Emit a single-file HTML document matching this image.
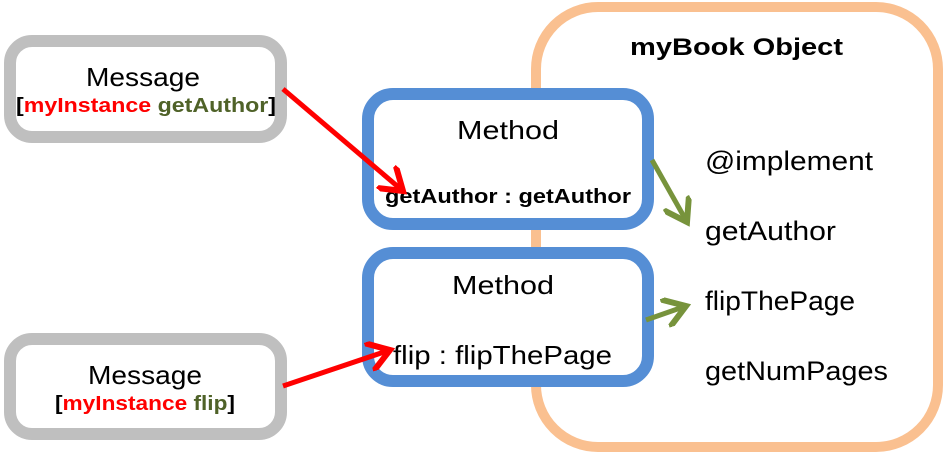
<!DOCTYPE html>
<html><head><meta charset="utf-8"><style>
html,body{margin:0;padding:0;background:#fff;}
svg{display:block;font-family:"Liberation Sans","Noto Sans CJK KR",sans-serif;}
</style></head><body>
<svg width="944" height="454" viewBox="0 0 944 454" xmlns="http://www.w3.org/2000/svg">
<defs>
<marker id="ar" markerWidth="6" markerHeight="6" refX="4.5" refY="3" orient="auto" markerUnits="strokeWidth"><path d="M0,0 L4.5,3 L0,6" fill="none" stroke="#ff0000" stroke-width="1.2"/></marker>
<marker id="ag" markerWidth="6" markerHeight="6" refX="4.5" refY="3" orient="auto" markerUnits="strokeWidth"><path d="M0,0 L4.5,3 L0,6" fill="none" stroke="#77933c" stroke-width="1.2"/></marker>
</defs>
<rect x="536" y="7" width="402" height="440" rx="62" fill="#fff" stroke="#fac090" stroke-width="10"/>
<rect x="10" y="41" width="271" height="96" rx="22" fill="#fff" stroke="#bfbfbf" stroke-width="12"/>
<rect x="10" y="339" width="271" height="95" rx="22" fill="#fff" stroke="#bfbfbf" stroke-width="12"/>
<rect x="368" y="94" width="280" height="130" rx="25" fill="#fff" stroke="#558ed5" stroke-width="12"/>
<rect x="368" y="253" width="280" height="128" rx="25" fill="#fff" stroke="#558ed5" stroke-width="12"/>

<text x="86" y="86" font-size="26" textLength="114" lengthAdjust="spacingAndGlyphs">Message</text>
<text x="16" y="112" font-size="20" font-weight="bold" textLength="260" lengthAdjust="spacingAndGlyphs"><tspan>[</tspan><tspan fill="#ff0000">myInstance </tspan><tspan fill="#4f6228">getAuthor</tspan><tspan>]</tspan></text>
<text x="88" y="384" font-size="26" textLength="114" lengthAdjust="spacingAndGlyphs">Message</text>
<text x="55" y="410" font-size="20" font-weight="bold" textLength="180" lengthAdjust="spacingAndGlyphs"><tspan>[</tspan><tspan fill="#ff0000">myInstance </tspan><tspan fill="#4f6228">flip</tspan><tspan>]</tspan></text>

<text x="457" y="139" font-size="26" textLength="102" lengthAdjust="spacingAndGlyphs">Method</text>
<text x="385" y="203" font-size="20" font-weight="bold" textLength="246" lengthAdjust="spacingAndGlyphs">getAuthor : getAuthor</text>
<text x="452" y="294" font-size="26" textLength="102" lengthAdjust="spacingAndGlyphs">Method</text>
<text x="393" y="364" font-size="26" textLength="219" lengthAdjust="spacingAndGlyphs">flip : flipThePage</text>

<text x="630" y="55" font-size="24" font-weight="bold" textLength="213" lengthAdjust="spacingAndGlyphs">myBook Object</text>
<text x="705" y="170" font-size="27" textLength="168" lengthAdjust="spacingAndGlyphs">@implement</text>
<text x="705" y="240" font-size="27" textLength="131" lengthAdjust="spacingAndGlyphs">getAuthor</text>
<text x="705" y="310" font-size="27" textLength="150" lengthAdjust="spacingAndGlyphs">flipThePage</text>
<text x="705" y="380" font-size="27" textLength="183" lengthAdjust="spacingAndGlyphs">getNumPages</text>

<line x1="283" y1="89" x2="403" y2="191" stroke="#ff0000" stroke-width="5" marker-end="url(#ar)"/>
<line x1="283" y1="386" x2="390" y2="350" stroke="#ff0000" stroke-width="5" marker-end="url(#ar)"/>
<line x1="652" y1="160" x2="687" y2="222" stroke="#77933c" stroke-width="5" marker-end="url(#ag)"/>
<line x1="646" y1="320" x2="686" y2="306" stroke="#77933c" stroke-width="5" marker-end="url(#ag)"/>
</svg>
</body></html>
